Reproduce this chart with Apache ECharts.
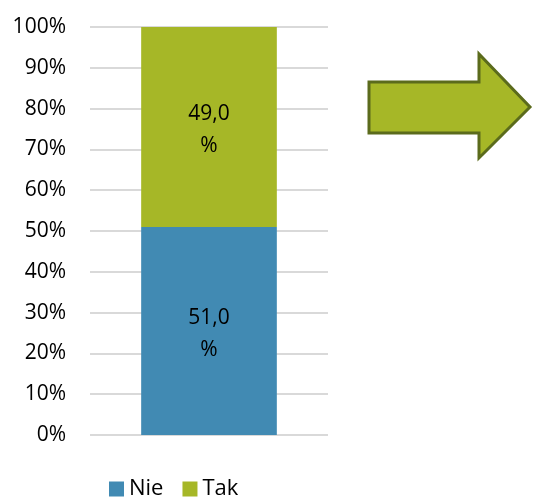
<!DOCTYPE html>
<html>
<head>
<meta charset="utf-8">
<script src="https://cdn.jsdelivr.net/npm/echarts@6/dist/echarts.min.js"></script>
<style>
html,body{margin:0;padding:0;background:#fff;}
#chart{width:533px;height:498px;}
</style>
</head>
<body>
<div id="chart"></div>
<script>
// dane z wykresu
var categories = [""]
var nieValues = [51.0]
var takValues = [49.0]
var seriesNames = ["Nie", "Tak"]
var yTicks = [0, 10, 20, 30, 40, 50, 60, 70, 80, 90, 100]

var font = "Open Sans"
var myChart = echarts.init(document.getElementById("chart"))

function barLabel(p){
  return p.value.toFixed(1).replace(".", ",") + "\n%"
}

var option = {
  animation: false,
  textStyle: { fontFamily: font },
  grid: { left: 90, right: 205, top: 27, bottom: 63 },
  legend: {
    left: 104,
    top: 473,
    itemWidth: 15,
    itemHeight: 15,
    itemGap: 19,
    icon: "rect",
    textStyle: { fontFamily: font, fontSize: 22, color: "#000", padding: [0, 0, 0, 0] },
    data: seriesNames
  },
  xAxis: {
    type: "category",
    data: categories,
    axisLine: { show: false },
    axisTick: { show: false },
    axisLabel: { show: false }
  },
  yAxis: {
    type: "value",
    min: yTicks[0],
    max: yTicks[yTicks.length - 1],
    interval: 10,
    axisLine: { show: false },
    axisTick: { show: false },
    splitLine: { lineStyle: { color: "#d9d9d9", width: 2 } },
    axisLabel: {
      margin: 24,
      fontFamily: font,
      fontSize: 21,
      color: "#000",
      formatter: function (v) { return v + "%" }
    }
  },
  series: [
    {
      name: seriesNames[0],
      type: "bar",
      stack: "a",
      barWidth: "57%",
      itemStyle: { color: "#418ab3" },
      label: { show: true, position: "inside", formatter: barLabel, fontFamily: font, fontSize: 21, color: "#000", lineHeight: 32, offset: [0, 3] },
      data: nieValues
    },
    {
      name: seriesNames[1],
      type: "bar",
      stack: "a",
      itemStyle: { color: "#a6b727" },
      label: { show: true, position: "inside", formatter: barLabel, fontFamily: font, fontSize: 21, color: "#000", lineHeight: 32, offset: [0, 3] },
      data: takValues
    }
  ],
  graphic: [
    {
      type: "polygon",
      shape: {
        points: [[369, 82], [479, 82], [479, 54], [530, 107], [479, 158], [479, 133], [369, 133]]
      },
      style: { fill: "#a6b727", stroke: "#5b6b1c", lineWidth: 3 }
    }
  ]
}

myChart.setOption(option)
window.addEventListener("resize", () => {
  myChart.resize()
})
</script>
</body>
</html>
